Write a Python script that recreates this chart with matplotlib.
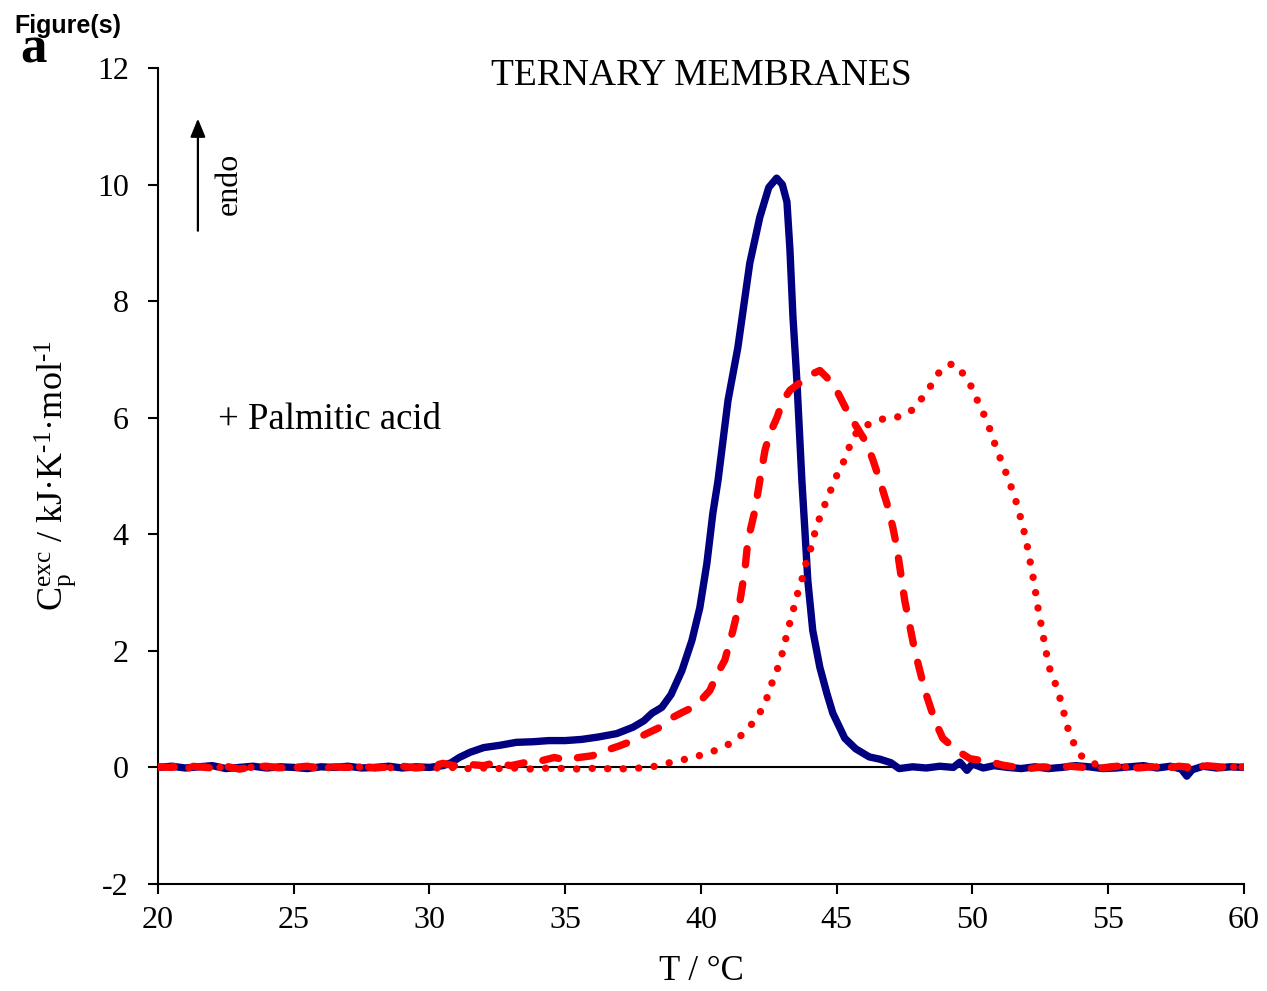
import matplotlib
matplotlib.use('Agg')
import matplotlib.pyplot as plt

plt.rcParams['font.family'] = ['Liberation Serif', 'DejaVu Serif']
plt.rcParams['mathtext.fontset'] = 'custom'
plt.rcParams['mathtext.rm'] = 'Liberation Serif'
plt.rcParams['mathtext.it'] = 'Liberation Serif:italic'
plt.rcParams['axes.unicode_minus'] = False

# --- dane: krzywa ciagla (granatowa) ---
t_solid = [20.0, 20.5, 21.0, 21.5, 22.0, 22.5, 23.0, 23.5, 24.0, 24.5, 25.0, 25.5, 26.0, 26.5,
           27.0, 27.5, 28.0, 28.5, 29.0, 29.5, 30.0, 30.5, 30.8, 31.1, 31.5, 32.0, 32.6, 33.2,
           33.8, 34.4, 35.0, 35.6, 36.2, 36.9, 37.5, 37.9, 38.2, 38.56, 38.9, 39.3, 39.67, 39.96,
           40.22, 40.44, 40.63, 41.0, 41.36, 41.8, 42.17, 42.5, 42.79, 43.0, 43.17, 43.28, 43.39,
           43.54, 43.72, 43.83, 43.94, 44.12, 44.38, 44.64, 44.86, 45.3, 45.7, 46.2, 46.6, 47.0,
           47.3, 47.8, 48.3, 48.8, 49.3, 49.54, 49.8, 50.0, 50.4, 50.8, 51.3, 51.8, 52.3, 52.8,
           53.3, 53.8, 54.3, 54.8, 55.3, 55.8, 56.3, 56.8, 57.3, 57.7, 57.9, 58.1, 58.5, 59.0,
           59.5, 60.0]
cp_solid = [0.0, 0.02, -0.01, 0.01, 0.03, -0.02, 0.0, 0.02, -0.01, 0.01, 0.0, -0.02, 0.01, 0.0,
            0.02, -0.01, 0.0, 0.02, -0.01, 0.01, 0.0, 0.03, 0.08, 0.17, 0.26, 0.34, 0.38, 0.43,
            0.44, 0.46, 0.46, 0.48, 0.52, 0.58, 0.69, 0.8, 0.93, 1.03, 1.25, 1.66, 2.18, 2.74,
            3.5, 4.36, 4.92, 6.3, 7.2, 8.65, 9.44, 9.95, 10.11, 10.0, 9.7, 8.88, 7.74,
            6.6, 4.92, 4.07, 3.2, 2.35, 1.72, 1.27, 0.93, 0.5, 0.32, 0.18, 0.14, 0.08,
            -0.02, 0.01, -0.01, 0.02, 0.0, 0.09, -0.05, 0.06, -0.01, 0.03, 0.0, -0.02, 0.01, -0.02,
            0.0, 0.03, 0.01, -0.02, -0.01, 0.01, 0.03, -0.01, 0.02, -0.03, -0.15, -0.04, 0.02, -0.01,
            0.01, 0.0]

# --- krzywa kreskowana (czerwona) ---
t_dash = [20.0, 20.5, 21.0, 21.5, 22.0, 22.5, 23.0, 23.5, 24.0, 24.5, 25.0, 25.5, 26.0, 26.5,
          27.0, 27.5, 28.0, 28.5, 29.0, 29.5, 30.0, 30.5, 31.0, 31.5, 32.0, 32.4, 33.0, 33.5,
          34.0, 34.6, 35.0, 35.5, 36.0, 36.5, 37.0, 37.5, 38.0, 38.5, 38.97, 39.34, 39.7, 40.0,
          40.33, 40.6, 40.88, 41.18, 41.44, 41.62, 41.73, 41.99, 42.17, 42.36, 42.54, 42.8, 43.02,
          43.28, 43.76, 44.1, 44.38, 44.64, 45.0, 45.38, 45.75, 46.11, 46.34, 46.59, 46.85, 47.07,
          47.22, 47.51, 47.88, 48.25, 48.62, 48.91, 49.43, 49.91, 50.3, 50.64, 51.1, 51.64, 52.1,
          52.6, 53.1, 53.6, 54.1, 54.6, 55.1, 55.6, 56.1, 56.6, 57.1, 57.6, 58.1, 58.6, 59.1,
          59.6, 60.0]
cp_dash = [0.01, 0.0, 0.03, 0.01, -0.01, 0.02, -0.03, 0.01, 0.02, -0.01, 0.0, 0.02, -0.02, 0.01,
           0.0, 0.02, -0.01, 0.01, 0.02, -0.01, 0.01, 0.07, 0.02, 0.05, 0.03, 0.08, 0.03, 0.08,
           0.1, 0.17, 0.13, 0.17, 0.2, 0.29, 0.37, 0.46, 0.58, 0.69, 0.86, 0.95, 1.03, 1.15,
           1.32, 1.6, 1.84, 2.35, 2.86, 3.38, 3.89, 4.41, 4.92, 5.44, 5.73, 6.0, 6.29,
           6.47, 6.64, 6.75, 6.81, 6.69, 6.47, 6.12, 5.83, 5.56, 5.27, 4.92, 4.53, 4.12,
           3.77, 2.86, 2.0, 1.32, 0.8, 0.5, 0.29, 0.15, 0.12, 0.1, 0.04, 0.0, -0.02,
           0.01, -0.01, 0.02, 0.0, -0.02, 0.01, 0.03, -0.01, 0.01, -0.02, 0.02, 0.0, 0.03, 0.01,
           -0.01, 0.01]

# --- krzywa kropkowana (czerwona) ---
t_dot = [20.0, 20.6, 21.2, 21.8, 22.4, 23.0, 23.6, 24.2, 24.8, 25.4, 26.0, 26.6, 27.2, 27.8,
         28.4, 29.0, 29.6, 30.2, 30.8, 31.4, 32.0, 32.6, 33.2, 33.8, 34.4, 35.0, 35.6, 36.2,
         36.8, 37.4, 38.12, 38.75, 39.23, 39.7, 40.22, 40.77, 41.25, 41.69, 42.06, 42.36, 42.54,
         42.76, 42.95, 43.09, 43.24, 43.39, 43.54, 43.72, 43.87, 44.05, 44.2, 44.38, 44.6, 44.82,
         45.05, 45.34, 45.52, 45.8, 46.33, 46.85, 47.4, 47.88, 48.21, 48.55, 48.84, 49.28, 49.65,
         49.98, 50.2, 50.46, 50.68, 50.87, 51.09, 51.31, 51.49, 51.68, 51.82, 51.97, 52.08, 52.19,
         52.3, 52.38, 52.49, 52.6, 52.71, 52.82, 53.04, 53.22, 53.37, 53.52, 53.74, 54.03, 54.44,
         55.0, 55.5, 56.0, 56.5, 57.0, 57.5, 58.0, 58.5, 59.0, 59.5, 60.0]
cp_dot = [0.0, 0.02, -0.01, 0.01, 0.0, -0.02, 0.01, 0.0, -0.01, 0.01, 0.0, -0.01, 0.01, 0.0,
          -0.01, 0.01, 0.0, -0.01, 0.0, -0.02, -0.01, -0.02, -0.01, -0.03, -0.01, -0.02, -0.03, -0.01,
          -0.03, -0.02, 0.0, 0.07, 0.12, 0.17, 0.24, 0.33, 0.46, 0.63, 0.86, 1.08, 1.36,
          1.61, 1.87, 2.14, 2.42, 2.68, 2.95, 3.22, 3.5, 3.76, 4.03, 4.29, 4.55, 4.8,
          5.06, 5.32, 5.57, 5.8, 5.92, 6.0, 6.02, 6.16, 6.38, 6.6, 6.83, 6.93, 6.76,
          6.52, 6.28, 6.02, 5.76, 5.49, 5.23, 4.97, 4.73, 4.46, 4.2, 3.93, 3.65, 3.38,
          3.1, 2.83, 2.56, 2.28, 2.0, 1.73, 1.46, 1.2, 0.94, 0.67, 0.41, 0.19, 0.07,
          0.0, 0.01, -0.01, 0.02, 0.0, 0.01, -0.01, 0.02, 0.0, 0.01, 0.0]

x_ticks = [20, 25, 30, 35, 40, 45, 50, 55, 60]
y_ticks = [-2, 0, 2, 4, 6, 8, 10, 12]

fig = plt.figure(figsize=(12.67, 9.91), dpi=100)
ax = fig.add_axes([0.1247, 0.108, 0.857, 0.8234])

lw = 5.3
ax.axhline(0, color='black', lw=1.5, zorder=1)
ax.plot(t_solid, cp_solid, color='#000080', lw=lw, solid_capstyle='round',
        solid_joinstyle='round', zorder=2)
ax.plot(t_dash, cp_dash, color='#FF0000', lw=lw, linestyle=(0, (2.2, 2.6)),
        dash_capstyle='round', dash_joinstyle='round', zorder=3)
ax.plot(t_dot, cp_dot, color='#FF0000', lw=lw, linestyle=(0, (0.01, 2.1)),
        dash_capstyle='round', zorder=4)

ax.set_xlim(20, 60)
ax.set_ylim(-2, 12)
ax.set_xticks(x_ticks)
ax.set_yticks(y_ticks)
ax.spines['top'].set_visible(False)
ax.spines['right'].set_visible(False)
ax.spines['left'].set_linewidth(1.5)
ax.spines['bottom'].set_linewidth(1.5)
ax.tick_params(direction='out', length=7, width=1.5, labelsize=23, pad=9)
ax.tick_params(axis='y', pad=14)

ax.set_xlabel('T / °C', fontsize=25, labelpad=14)
ax.set_ylabel('C$_\\mathregular{p}^\\mathregular{exc}$ / kJ·K$^\\mathregular{\u2010 1}$·mol$^\\mathregular{\u2010 1}$',
              fontsize=26, labelpad=14)

ax.text(40, 11.7, 'TERNARY MEMBRANES', fontsize=27, ha='center', va='baseline')
ax.text(22.21, 5.81, '+ Palmitic acid', fontsize=26.5, ha='left', va='baseline')
ax.annotate('', xy=(21.47, 11.18), xytext=(21.47, 9.16),
            arrowprops=dict(arrowstyle='-|>,head_length=1.1,head_width=0.45', color='black', lw=1.6))
ax.text(22.62, 10.02, 'endo', fontsize=23, rotation=90, ha='center', va='center')

fig.text(0.011, 0.967, 'Figure(s)', fontsize=18, fontweight='bold',
         family=['Liberation Sans', 'DejaVu Sans'], ha='left', va='baseline')
fig.text(0.0158, 0.937, 'a', fontsize=38, fontweight='bold', ha='left', va='baseline')

plt.savefig('out.png', dpi=100)
